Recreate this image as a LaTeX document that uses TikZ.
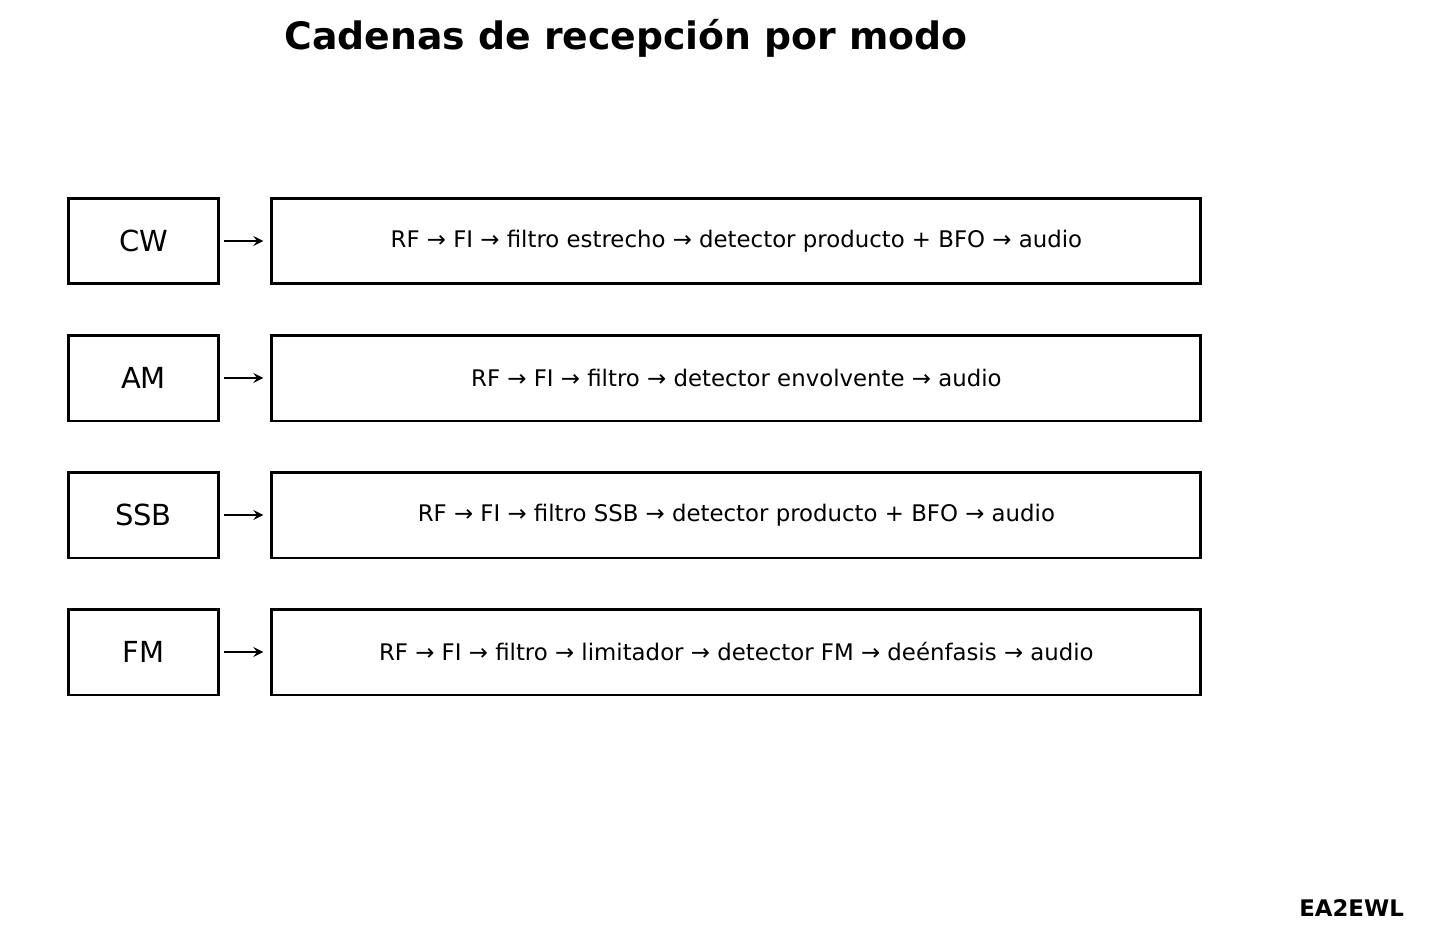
\documentclass[tikz,border=0pt]{standalone}
\usepackage{fontspec}
\setmainfont{DejaVu Sans}
\usetikzlibrary{positioning}
\begin{document}
\begin{tikzpicture}[
            x = 0.02cm, y = -0.02cm,
            > = stealth,
            mode/.style = {draw, line width = 1.7pt, minimum width = 3.02cm, minimum height = 1.72cm, inner sep = 0pt, font = \fontsize{16.5}{18}\selectfont},
            chain/.style = {draw, line width = 1.7pt, minimum width = 18.58cm, minimum height = 1.72cm, inner sep = 0pt, font = \fontsize{13}{15}\selectfont},
            link/.style = {->, line width = 1.5pt, shorten > = 4pt, shorten < = 2pt}
        ]
        \useasboundingbox (0,0) rectangle (1429,939);

        % title
        \node (title) at (626,38) {\fontsize{21.5}{24}\selectfont\bfseries Cadenas de recepción por modo};

        % chains per mode
        \foreach \name/\txt/\yy in {
            CW/{RF → FI → filtro estrecho → detector producto + BFO → audio}/241,
            AM/{RF → FI → filtro → detector envolvente → audio}/378,
            SSB/{RF → FI → filtro SSB → detector producto + BFO → audio}/515,
            FM/{RF → FI → filtro → limitador → detector FM → deénfasis → audio}/652}
        {
            \node[mode] (m\name) at (143.5,\yy) {\name};
            \node[chain, right = 1cm of m\name] (c\name) {\txt};
            \draw[link] (m\name) -- (c\name);
        }

        % call sign
        \node[anchor = east] (sign) at (1410,908) {\fontsize{13}{15}\selectfont\bfseries EA2EWL};
\end{tikzpicture}
\end{document}
